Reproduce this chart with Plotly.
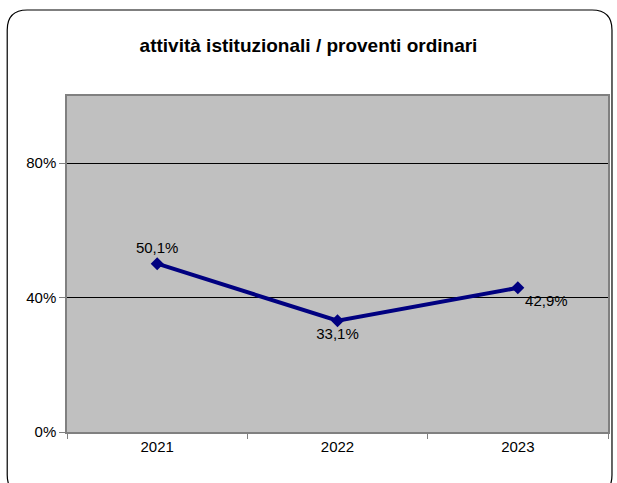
import plotly.graph_objects as go

# dati
anni = ["2021", "2022", "2023"]
rapporto = [0.501, 0.331, 0.429]
pos_etichette = ["top center", "bottom center", "bottom right"]

W, H = 617, 483
ml, mr, mt, mb = 67, 7, 96, 51
pw, ph = W - ml - mr, H - mt - mb


def px_x(x):
    return (x - ml) / pw


def px_y(y):
    return (H - mb - y) / ph


fig = go.Figure()
fig.add_trace(go.Scatter(
    x=anni, y=rapporto,
    mode="lines+markers+text",
    line=dict(color="#000080", width=4),
    marker=dict(symbol="diamond", size=10, color="#000080"),
    texttemplate="%{y:.1%}",
    textposition=pos_etichette,
    textfont=dict(family="Liberation Sans, Arial", size=15, color="black"),
    cliponaxis=False,
    showlegend=False,
))

# cornice arrotondata
x0, x1 = px_x(7), px_x(614)
y0, y1 = px_y(495), px_y(10)
rx, ry = 20 / pw, 20 / ph
path = (f"M {x0+rx},{y1} L {x1-rx},{y1} Q {x1},{y1} {x1},{y1-ry} "
        f"L {x1},{y0+ry} Q {x1},{y0} {x1-rx},{y0} L {x0+rx},{y0} "
        f"Q {x0},{y0} {x0},{y0+ry} L {x0},{y1-ry} Q {x0},{y1} {x0+rx},{y1} Z")
fig.add_shape(type="path", path=path, xref="paper", yref="paper",
              line=dict(color="black", width=1.2), layer="below")

fig.update_layout(
    width=W, height=H,
    margin=dict(l=ml, r=mr, t=mt, b=mb),
    paper_bgcolor="white",
    plot_bgcolor="#C0C0C0",
    separators=",.",
    font=dict(family="Liberation Sans, Arial", size=15, color="black"),
    title=dict(text="<b>attività istituzionali / proventi ordinari</b>",
               x=0.5, xanchor="center", y=1 - 45 / H, yanchor="middle",
               font=dict(size=19)),
)
fig.update_xaxes(
    type="category", range=[-0.5, 2.5], tickson="boundaries",
    ticks="outside", ticklen=5, tickcolor="#808080",
    showgrid=False, showline=True, linecolor="#808080",
    linewidth=1.5, mirror=True, zeroline=False,
)
fig.update_yaxes(
    range=[0, 1], tickvals=[0, 0.4, 0.8], tickformat=".0%",
    ticks="outside", ticklen=6, tickcolor="#808080",
    showgrid=True, gridcolor="black", gridwidth=1,
    showline=True, linecolor="#808080", linewidth=1.5, mirror=True,
    zeroline=False,
)

fig.write_html("out.html", config={"displayModeBar": False},
               post_script="document.body.style.margin='0';")
